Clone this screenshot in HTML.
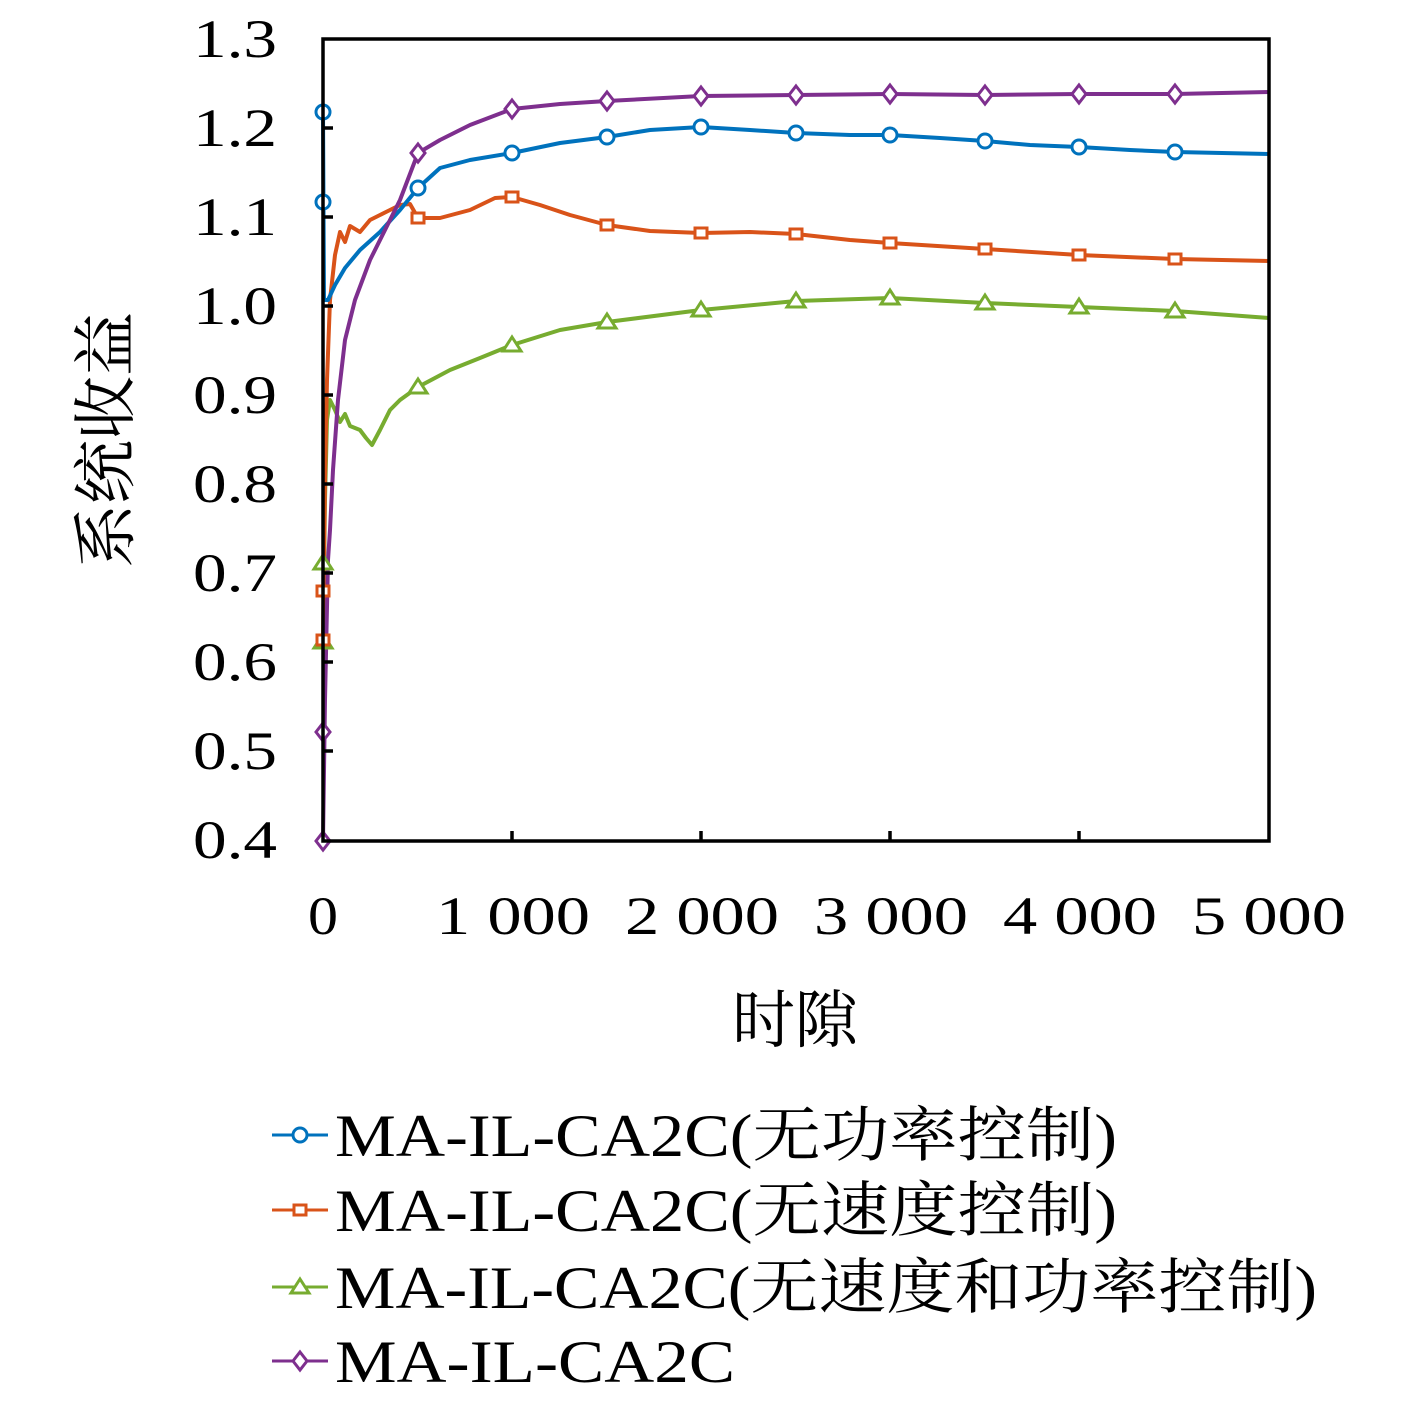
<!DOCTYPE html>
<html><head><meta charset="utf-8"><style>
body{margin:0;background:#fff;}
text{font-family:"Liberation Serif","Noto Serif CJK SC",serif;fill:#000;}
</style></head><body>
<svg width="1417" height="1400" viewBox="0 0 1417 1400" xmlns="http://www.w3.org/2000/svg">
<defs>
<g id="mc"><circle r="7" fill="#fff" stroke="#0072BD" stroke-width="3"/></g>
<g id="ms"><rect x="-6" y="-5" width="12" height="10" fill="#fff" stroke="#D95319" stroke-width="3"/></g>
<g id="mt"><path d="M0,-8 L9,6 L-9,6 Z" fill="#fff" stroke="#77AC30" stroke-width="3"/></g>
<g id="md"><path d="M0,-9 L7,0 L0,9 L-7,0 Z" fill="#fff" stroke="#7E2F8E" stroke-width="3"/></g>
</defs>
<g fill="none" stroke-width="4" stroke-linejoin="round">
<path stroke="#77AC30" d="M323,642 L325,500 L327,420 L330,400 L335,410 L340,422 L345,414 L350,426 L360,430 L366,438 L372,445 L380,430 L390,410 L400,400 L418,387 L450,370 L480,358 L512,345 L560,330 L607,322 L701,310 L796,301 L890,298 L985,303 L1079,307 L1175,311 L1269,318"/>
<path stroke="#D95319" d="M323,640 L325,480 L327,380 L330,300 L335,255 L340,232 L345,242 L350,226 L360,232 L370,220 L380,215 L390,210 L400,205 L410,204 L418,218 L440,218 L470,210 L495,198 L512,197 L540,205 L570,215 L607,225 L650,231 L701,233 L750,232 L796,234 L850,240 L890,243 L985,249 L1079,255 L1175,259 L1269,261"/>
<path stroke="#0072BD" d="M323,112 L324,300 L328,300 L335,285 L345,268 L360,250 L380,232 L400,210 L418,188 L440,168 L470,160 L512,153 L560,143 L607,137 L650,130 L701,127 L750,130 L796,133 L850,135 L890,135 L940,138 L985,141 L1030,145 L1079,147 L1130,150 L1175,152 L1269,154"/>
<path stroke="#7E2F8E" d="M323,841 L325,700 L328,560 L330,530 L333,470 L338,400 L345,340 L355,300 L370,260 L385,230 L400,200 L418,153 L440,140 L470,125 L512,109 L560,104 L607,101 L701,96 L796,95 L890,94 L985,95 L1079,94 L1175,94 L1269,92"/>
</g>
<g>
<use href="#mt" x="323" y="563"/><use href="#mt" x="323" y="642"/><use href="#mt" x="418" y="387"/><use href="#mt" x="512" y="345"/><use href="#mt" x="607" y="322"/><use href="#mt" x="701" y="310"/><use href="#mt" x="796" y="301"/><use href="#mt" x="890" y="298"/><use href="#mt" x="985" y="303"/><use href="#mt" x="1079" y="307"/><use href="#mt" x="1175" y="311"/>
<use href="#ms" x="323" y="591"/><use href="#ms" x="323" y="640"/><use href="#ms" x="418" y="218"/><use href="#ms" x="512" y="197"/><use href="#ms" x="607" y="225"/><use href="#ms" x="701" y="233"/><use href="#ms" x="796" y="234"/><use href="#ms" x="890" y="243"/><use href="#ms" x="985" y="249"/><use href="#ms" x="1079" y="255"/><use href="#ms" x="1175" y="259"/>
<use href="#mc" x="323" y="112"/><use href="#mc" x="323" y="202"/><use href="#mc" x="418" y="188"/><use href="#mc" x="512" y="153"/><use href="#mc" x="607" y="137"/><use href="#mc" x="701" y="127"/><use href="#mc" x="796" y="133"/><use href="#mc" x="890" y="135"/><use href="#mc" x="985" y="141"/><use href="#mc" x="1079" y="147"/><use href="#mc" x="1175" y="152"/>
<use href="#md" x="323" y="841"/><use href="#md" x="323" y="732"/><use href="#md" x="418" y="153"/><use href="#md" x="512" y="109"/><use href="#md" x="607" y="101"/><use href="#md" x="701" y="96"/><use href="#md" x="796" y="95"/><use href="#md" x="890" y="94"/><use href="#md" x="985" y="95"/><use href="#md" x="1079" y="94"/><use href="#md" x="1175" y="94"/>
</g>
<rect x="323" y="39" width="946" height="802" fill="none" stroke="#000" stroke-width="3.5"/>
<g stroke="#000" stroke-width="3.5">
<path d="M323,128h10M323,217h10M323,306h10M323,395h10M323,484h10M323,573h10M323,662h10M323,751h10"/>
<path d="M512,841v-10M701,841v-10M890,841v-10M1079,841v-10"/>
</g>
<g font-size="54">
<text x="193" y="57" textLength="84" lengthAdjust="spacingAndGlyphs">1.3</text>
<text x="193" y="146" textLength="84" lengthAdjust="spacingAndGlyphs">1.2</text>
<text x="193" y="235" textLength="84" lengthAdjust="spacingAndGlyphs">1.1</text>
<text x="193" y="324" textLength="84" lengthAdjust="spacingAndGlyphs">1.0</text>
<text x="193" y="413" textLength="84" lengthAdjust="spacingAndGlyphs">0.9</text>
<text x="193" y="502" textLength="84" lengthAdjust="spacingAndGlyphs">0.8</text>
<text x="193" y="591" textLength="84" lengthAdjust="spacingAndGlyphs">0.7</text>
<text x="193" y="680" textLength="84" lengthAdjust="spacingAndGlyphs">0.6</text>
<text x="193" y="769" textLength="84" lengthAdjust="spacingAndGlyphs">0.5</text>
<text x="193" y="858" textLength="84" lengthAdjust="spacingAndGlyphs">0.4</text>
</g>
<g font-size="54">
<text x="308" y="934" textLength="30" lengthAdjust="spacingAndGlyphs">0</text>
<text x="436" y="934" textLength="154" lengthAdjust="spacingAndGlyphs">1 000</text>
<text x="625" y="934" textLength="154" lengthAdjust="spacingAndGlyphs">2 000</text>
<text x="814" y="934" textLength="154" lengthAdjust="spacingAndGlyphs">3 000</text>
<text x="1003" y="934" textLength="154" lengthAdjust="spacingAndGlyphs">4 000</text>
<text x="1192" y="934" textLength="154" lengthAdjust="spacingAndGlyphs">5 000</text>
</g>
<g text-anchor="middle">
<text x="795" y="1042" font-size="63">时隙</text>
<text transform="translate(128,440) rotate(-90)" font-size="64">系统收益</text>
</g>
<g stroke-width="3">
<line x1="272" y1="1135" x2="328" y2="1135" stroke="#0072BD"/><use href="#mc" x="300" y="1135"/>
<line x1="272" y1="1210" x2="328" y2="1210" stroke="#D95319"/><use href="#ms" x="300" y="1210"/>
<line x1="272" y1="1287" x2="328" y2="1287" stroke="#77AC30"/><use href="#mt" x="300" y="1287"/>
<line x1="272" y1="1361" x2="328" y2="1361" stroke="#7E2F8E"/><use href="#md" x="300" y="1361"/>
</g>
<g font-size="60">
<text x="335" y="1156" textLength="782" lengthAdjust="spacingAndGlyphs">MA-IL-CA2C(无功率控制)</text>
<text x="335" y="1231" textLength="782" lengthAdjust="spacingAndGlyphs">MA-IL-CA2C(无速度控制)</text>
<text x="335" y="1308" textLength="982" lengthAdjust="spacingAndGlyphs">MA-IL-CA2C(无速度和功率控制)</text>
<text x="335" y="1382" textLength="400" lengthAdjust="spacingAndGlyphs">MA-IL-CA2C</text>
</g>
</svg>
</body></html>
